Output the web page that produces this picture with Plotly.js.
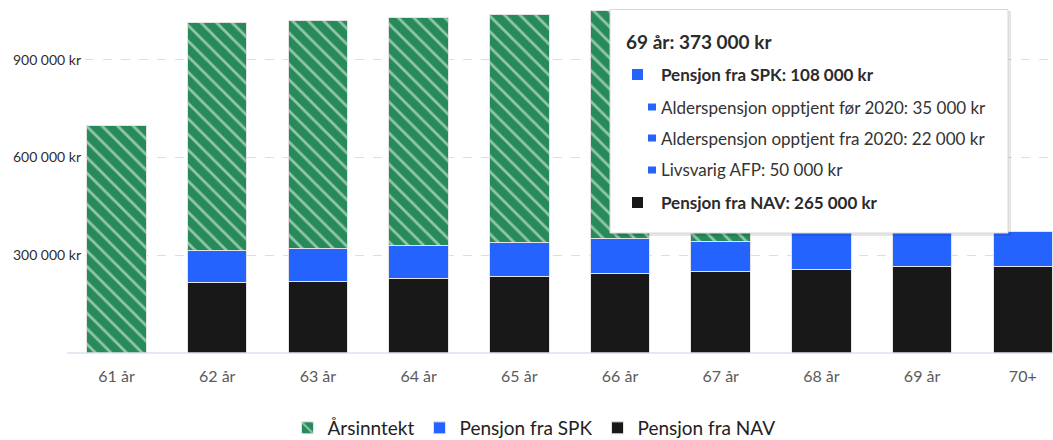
<!DOCTYPE html>
<html>
<head>
<meta charset="utf-8">
<script src="https://cdn.plot.ly/plotly-3.0.1.min.js"></script>
<style>
html,body{margin:0;padding:0;background:#fff;}
#chart{width:1053px;height:440px;}
</style>
</head>
<body>
<div id="chart"></div>
<script>
// ---- data ----
const categories = ['61 år','62 år','63 år','64 år','65 år','66 år','67 år','68 år','69 år','70+'];
const incomeValues = [700000, 700000, 700000, 700000, 700000, 700000, 700000, null, null, null];
const spkValues    = [null, 97000, 102000, 102000, 105000, 107000, 94000, 112000, 108000, 107000];
const navValues    = [null, 217000, 220000, 228000, 235000, 244000, 249000, 257000, 265000, 265000];
const yTickValues  = [300000, 600000, 900000];

const seriesNames = ['Årsinntekt', 'Pensjon fra SPK', 'Pensjon fra NAV'];

const tipCategory = '69 år';
const tipSpkPartNames  = ['Alderspensjon opptjent før 2020', 'Alderspensjon opptjent fra 2020', 'Livsvarig AFP'];
const tipSpkPartValues = [35000, 22000, 50000];

// ---- styles ----
const GREEN = '#268b59', BLUE = '#2563ff', BLACK = '#181818';
const FONT = 'Lato, "Source Sans Pro", "Noto Sans", sans-serif';

function fmt(v){ return String(v).replace(/\B(?=(\d{3})+(?!\d))/g, ' ') + ' kr'; }

const L = 85, PW = 968, PH = 353;
function px(x){ return (x - L) / PW; }
function py(y){ return (PH - y) / PH; }

const barLine = {color: '#e4e4e4', width: 1};
const traces = [
  {type:'bar', name: seriesNames[2], x: categories, y: navValues,
   marker:{color: BLACK, line: barLine}, hoverinfo:'skip'},
  {type:'bar', name: seriesNames[1], x: categories, y: spkValues,
   marker:{color: BLUE, line: barLine}, hoverinfo:'skip'},
  {type:'bar', name: seriesNames[0], x: categories, y: incomeValues,
   marker:{color: GREEN, line: barLine,
     pattern:{shape:'\\', fgcolor:'#ffffff', bgcolor: GREEN, size: 11, solidity: 0.25, fillmode:'overlay'}},
   hoverinfo:'skip'}
];

// tooltip content derived from data
const ti = categories.indexOf(tipCategory);
const tipSpk = spkValues[ti], tipNav = navValues[ti];
const tipTotal = tipSpk + tipNav;

const shapes = [
  // x-axis baseline
  {type:'line', xref:'paper', yref:'paper', x0: px(67), x1: 1, y0: 0, y1: 0,
   line:{color:'#dce1ef', width:1.5}, layer:'above'},
  // tooltip shadow + box
  {type:'rect', xref:'paper', yref:'paper', x0: px(612), x1: px(1011), y0: py(236), y1: py(11),
   fillcolor:'rgba(0,0,0,0.10)', line:{width:0}, layer:'above'},
  {type:'rect', xref:'paper', yref:'paper', x0: px(610), x1: px(1008), y0: py(233), y1: py(9.5),
   fillcolor:'#ffffff', line:{color:'#d8d8d8', width:1}, layer:'above'},
  // tooltip swatches
  {type:'rect', xref:'paper', yref:'paper', x0: px(632), x1: px(643), y0: py(80), y1: py(69),
   fillcolor: BLUE, line:{width:0}, layer:'above'},
  {type:'rect', xref:'paper', yref:'paper', x0: px(632), x1: px(643), y0: py(208), y1: py(197),
   fillcolor: BLACK, line:{width:0}, layer:'above'}
];
const partY = [107, 138, 170];
partY.forEach(function(yy){
  shapes.push({type:'rect', xref:'paper', yref:'paper', x0: px(648), x1: px(656), y0: py(yy+3.5), y1: py(yy-3.5),
    fillcolor: BLUE, line:{width:0}, layer:'above'});
});

const annotations = [
  {xref:'paper', yref:'paper', x: px(624), y: py(41), xanchor:'left', yanchor:'middle', showarrow:false,
   text:'<b>' + tipCategory + ': ' + fmt(tipTotal) + '</b>', font:{family: FONT, size: 19, color:'#2b2b2b'}},
  {xref:'paper', yref:'paper', x: px(659), y: py(74), xanchor:'left', yanchor:'middle', showarrow:false,
   text:'<b>' + seriesNames[1] + ': ' + fmt(tipSpk) + '</b>', font:{family: FONT, size: 17, color:'#2b2b2b'}},
  {xref:'paper', yref:'paper', x: px(659), y: py(202), xanchor:'left', yanchor:'middle', showarrow:false,
   text:'<b>' + seriesNames[2] + ': ' + fmt(tipNav) + '</b>', font:{family: FONT, size: 17, color:'#2b2b2b'}}
];
tipSpkPartNames.forEach(function(n, i){
  annotations.push({xref:'paper', yref:'paper', x: px(659), y: py(partY[i]), xanchor:'left', yanchor:'middle', showarrow:false,
    text: n + ': ' + fmt(tipSpkPartValues[i]), font:{family: FONT, size: 17, color:'#333333'}});
});

const layout = {
  width: 1053, height: 440,
  margin: {l: L, r: 0, t: 0, b: 87, autoexpand: false},
  paper_bgcolor:'#ffffff', plot_bgcolor:'#ffffff',
  barmode:'stack', bargap: 0.41,
  font:{family: FONT, color:'#333'},
  xaxis:{type:'category', range:[-0.313, 9.3], showgrid:false, zeroline:false, showline:false, automargin:false,
    ticks:'', tickfont:{family: FONT, size: 16, color:'#5a5a5a'}, ticklabelstandoff: 12, fixedrange:true},
  yaxis:{range:[0, 1083800], tickmode:'array', tickvals: yTickValues, ticktext: yTickValues.map(fmt), automargin:false,
    showgrid:true, gridcolor:'#dedede', griddash:'dash', gridwidth:1, zeroline:false, showline:false,
    ticks:'', tickfont:{family: FONT, size: 14, color:'#2e2e2e'}, ticklabelstandoff: 3, fixedrange:true},
  showlegend:true,
  legend:{orientation:'h', traceorder:'reversed', xref:'container', yref:'container',
    x: 534/1053, xanchor:'center', y: 1 - 428/440, yanchor:'middle', entrywidth: 0,
    font:{family: FONT, size: 19, color:'#222'}, itemclick:false, itemdoubleclick:false},
  shapes: shapes,
  annotations: annotations
};

Plotly.newPlot('chart', traces, layout, {displayModeBar:false, staticPlot:true});
</script>
</body>
</html>
